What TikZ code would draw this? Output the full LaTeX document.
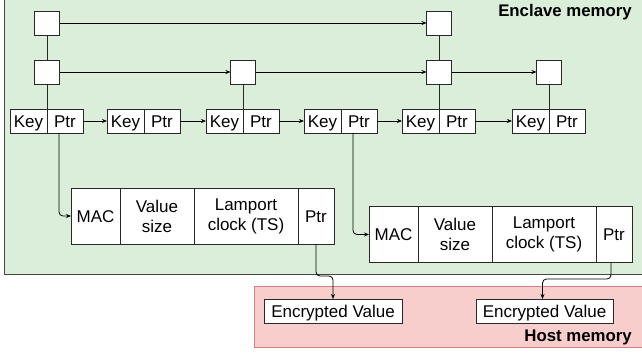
\documentclass[tikz,border=0pt]{standalone}
\usepackage{fontspec}
\setmainfont{Liberation Sans}
\usetikzlibrary{arrows.meta,positioning}
\tikzset{
  cell/.style={draw=boxColor,line width=0.8pt,fill=white,inner sep=0pt,outer sep=0pt,
    minimum height=24pt,align=center,font=\fontsize{17}{20}\selectfont},
  oneline/.style={cell,text height=12.2pt,text depth=0pt},
  lvl/.style={cell,minimum width=25pt,minimum height=24pt},
  link/.style={draw=black,line width=0.8pt,-{Stealth[length=5pt,width=4pt]}},
  tie/.style={draw=boxColor,line width=0.8pt},
  region/.style={line width=1pt},
  regionlabel/.style={font=\fontsize{16.8}{20}\selectfont\bfseries,inner sep=0pt,anchor=base east}
}
\begin{document}
\begin{tikzpicture}[x=1pt,y=1pt]
\definecolor{boxColor}{RGB}{40,40,40}
\definecolor{enclaveFill}{RGB}{219,238,217}
\definecolor{enclaveDraw}{RGB}{70,70,70}
\definecolor{hostFill}{RGB}{248,206,204}
\definecolor{hostDraw}{RGB}{214,128,126}
\path[use as bounding box] (0,0) rectangle (642,354);

% memory regions
\path[region,draw=enclaveDraw,fill=enclaveFill] (4,360) rectangle (650,80);
\path[region,draw=hostDraw,fill=hostFill] (254.5,68) rectangle (650,6.5);
\node[regionlabel] (enclave) at (632,337) {Enclave memory};
\node[regionlabel] (host) at (632,12.5) {Host memory};

% skip list level 0
\foreach \d [count=\i] in {47,144,243,341,439,549} {
  \node[oneline,minimum width=37pt,anchor=east] (k\i) at (\d,233) {Key};
  \node[oneline,minimum width=36pt,anchor=west] (p\i) at (\d,233) {Ptr};
}
\foreach \i/\j in {1/2,2/3,3/4,4/5,5/6}
  \draw[link] (p\i.east) -- (k\j.west);

% upper levels
\node[lvl] (t1) at (47,331) {};
\node[lvl] (t5) at (439,331) {};
\node[lvl] (m1) at (47,282) {};
\node[lvl] (m3) at (243,282) {};
\node[lvl] (m5) at (439,282) {};
\node[lvl] (m6) at (549,282) {};

\draw[tie] (t1.south) -- (m1.north);
\draw[tie] (t5.south) -- (m5.north);
\foreach \i in {1,3,5,6}
  \draw[tie] (m\i.south) -- (k\i.north east);

\draw[link] (t1.east) -- (t5.west);
\draw[link] (m1.east) -- (m3.west);
\draw[link] (m3.east) -- (m5.west);
\draw[link] (m5.east) -- (m6.west);

% value headers
\foreach \n/\x/\y in {1/71/138,2/369/119.5} {
  \node[oneline,minimum width=49pt,minimum height=56pt,anchor=west] (mac\n) at (\x,\y) {MAC};
  \node[cell,minimum width=74pt,minimum height=56pt,right=0pt of mac\n] (vs\n) {Value\\size};
  \node[cell,minimum width=104pt,minimum height=56pt,right=0pt of vs\n] (lc\n) {Lamport\\clock (TS)};
  \node[oneline,minimum width=36pt,minimum height=56pt,right=0pt of lc\n] (q\n) {Ptr};
}

\draw[link,rounded corners=4pt] ([xshift=-6pt]p1.south) |- (mac1.west);
\draw[link,rounded corners=4pt] ([xshift=-6pt]p4.south) |- (mac2.west);

% encrypted values
\node[oneline,minimum width=138pt] (enc1) at (333,43) {Encrypted Value};
\node[oneline,minimum width=137pt] (enc2) at (544.5,43) {Encrypted Value};

\draw[link,rounded corners=4pt] (q1.south) -- ++(0,-32) -| (enc1.north);
\draw[link,rounded corners=4pt] ([xshift=-3pt]q2.south) -- ++(0,-16.5) -| ([xshift=-2pt]enc2.north);
\end{tikzpicture}
\end{document}
